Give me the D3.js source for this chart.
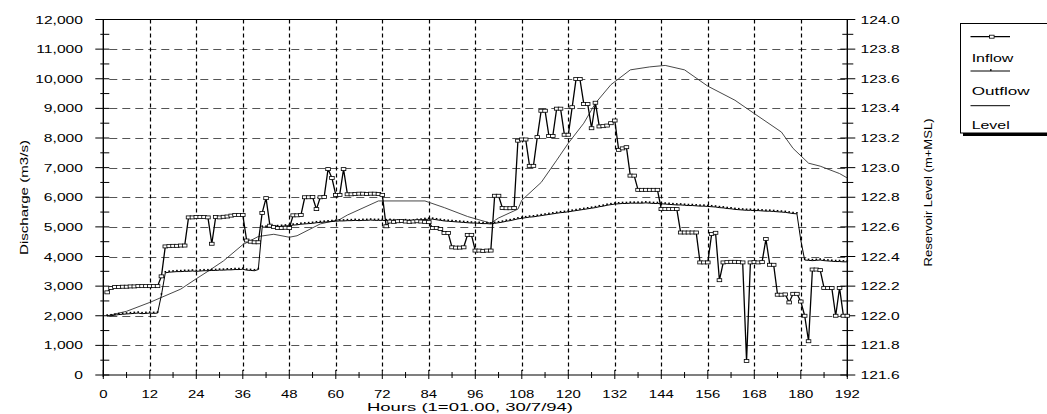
<!DOCTYPE html>
<html>
<head>
<meta charset="utf-8">
<script src="https://cdn.jsdelivr.net/npm/d3@7"></script>
<style>
  html, body { margin: 0; padding: 0; background: #fff; }
  svg { display: block; }
  text { font-family: "Liberation Sans", Arial, sans-serif; fill: #000; }
</style>
</head>
<body>
<svg id="chart" width="1047" height="414"></svg>
<script>
// Hourly discharge (m3/s), hour 1 .. 192
const inflow = [
  2790, 2940, 2970, 2970, 2980, 2980, 2990, 2990, 3000, 3000, 3000, 3000,
  3000, 3000, 3330, 4340, 4350, 4360, 4360, 4370, 4370, 5320, 5320, 5330,
  5330, 5330, 5320, 4430, 5330, 5320, 5340, 5350, 5380, 5400, 5400, 5400,
  4540, 4500, 4480, 4480, 5470, 5970, 5040, 5000, 4960, 4960, 4970, 4960,
  5390, 5390, 5400, 6000, 6000, 6010, 5600, 6000, 6010, 6950, 6650, 6080,
  6080, 6950, 6100, 6100, 6110, 6120, 6120, 6110, 6120, 6120, 6110, 6080,
  5020, 5180, 5170, 5190, 5200, 5180, 5170, 5180, 5190, 5180, 5170, 5160,
  4960, 4960, 4930, 4790, 4790, 4310, 4300, 4300, 4310, 4730, 4730, 4200,
  4200, 4190, 4200, 4200, 6050, 6050, 5640, 5630, 5630, 5640, 7910, 7950,
  7950, 7060, 7060, 8030, 8920, 8920, 8070, 8070, 8990, 8990, 8110, 8110,
  9040, 9990, 9990, 9150, 9150, 8330, 9190, 8390, 8400, 8420, 8500, 8590,
  7600, 7650, 7690, 6730, 6730, 6250, 6250, 6250, 6250, 6250, 6250, 5600,
  5600, 5600, 5600, 5600, 4810, 4810, 4810, 4810, 4810, 3800, 3800, 3800,
  4760, 4800, 3200, 3800, 3810, 3820, 3820, 3810, 3800, 470, 3800, 3810,
  3800, 3810, 4590, 3720, 3720, 2710, 2710, 2720, 2450, 2740, 2740, 2480,
  2000, 1140, 3560, 3560, 3540, 2940, 2940, 2940, 2000, 2940, 2000, 2000
];

const outflow = [
  1990, 2000, 2020, 2040, 2050, 2060, 2070, 2080, 2090, 2070, 2080, 2090,
  2080, 2090, 2700, 3450, 3470, 3480, 3490, 3490, 3500, 3500, 3510, 3500,
  3510, 3520, 3520, 3530, 3530, 3540, 3540, 3550, 3550, 3560, 3560, 3570,
  3540, 3530, 3520, 3560, 4990, 4990, 5000, 5000, 5010, 5020, 5030, 5040,
  5060, 5070, 5090, 5100, 5110, 5120, 5140, 5150, 5160, 5170, 5180, 5190,
  5200, 5200, 5210, 5210, 5220, 5210, 5220, 5220, 5230, 5220, 5220, 5220,
  5210, 5220, 5210, 5200, 5200, 5210, 5200, 5200, 5220, 5230, 5250, 5260,
  5260, 5240, 5220, 5200, 5190, 5180, 5170, 5160, 5150, 5140, 5130, 5130,
  5120, 5110, 5110, 5100, 5120, 5140, 5160, 5190, 5210, 5240, 5270, 5290,
  5310, 5330, 5340, 5360, 5380, 5400, 5420, 5440, 5460, 5480, 5490, 5510,
  5530, 5550, 5570, 5590, 5610, 5630, 5650, 5680, 5700, 5730, 5750, 5770,
  5780, 5790, 5790, 5800, 5800, 5800, 5800, 5810, 5800, 5790, 5790, 5780,
  5770, 5760, 5750, 5740, 5740, 5730, 5720, 5720, 5710, 5700, 5700, 5690,
  5680, 5670, 5650, 5640, 5620, 5610, 5590, 5580, 5570, 5560, 5560, 5550,
  5550, 5540, 5530, 5530, 5520, 5510, 5500, 5490, 5470, 5450, 5440, 4550,
  3880, 3870, 3860, 3870, 3880, 3860, 3850, 3840, 3830, 3830, 3820, 3820
];

// Reservoir level (m+MSL)
const levelHours  = [1, 6, 12, 20, 24, 27, 31, 36, 40, 44, 48, 50, 56, 61, 63, 71, 83, 88, 94, 100,
                     102, 107, 108, 113, 117, 120, 124, 127, 131, 133, 136, 141, 145, 150, 156, 163,
                     168, 175, 178, 182, 185, 190, 192];
const levelValues = [122.00, 122.03, 122.09, 122.18, 122.25, 122.30, 122.37, 122.48, 122.535, 122.55,
                     122.53, 122.54, 122.62, 122.65, 122.68, 122.775, 122.775, 122.73, 122.67, 122.625,
                     122.66, 122.72, 122.78, 122.90, 123.05, 123.165, 123.30, 123.435, 123.56, 123.60,
                     123.66, 123.68, 123.69, 123.66, 123.55, 123.455, 123.365, 123.24, 123.13, 123.03,
                     123.01, 122.96, 122.93];

const hourTicks      = [0, 12, 24, 36, 48, 60, 72, 84, 96, 108, 120, 132, 144, 156, 168, 180, 192];
const dischargeTicks = [0, 1000, 2000, 3000, 4000, 5000, 6000, 7000, 8000, 9000, 10000, 11000, 12000];
const levelTicks     = [121.6, 121.8, 122.0, 122.2, 122.4, 122.6, 122.8, 123.0, 123.2, 123.4, 123.6, 123.8, 124.0];

const seriesNames = ["Inflow", "Outflow", "Level"];

const svg = d3.select("#chart");
svg.append("rect").attr("width", 1047).attr("height", 414).attr("fill", "#fff");

const x  = d3.scaleLinear().domain([0, 192]).range([103.3, 847.3]);
const y  = d3.scaleLinear().domain([0, 12000]).range([375, 19.5]);
const yR = d3.scaleLinear().domain([121.6, 124.0]).range([375, 19.5]);

const X0 = x(0), X1 = x(192), Y0 = y(0), Y1 = y(12000);
const STRETCH = 1.36;   // wide lettering used throughout the chart

// --- grid ---
const grid = svg.append("g");
grid.selectAll("line.h")
  .data(dischargeTicks.filter(v => v > 0 && v < 12000))
  .join("line")
  .attr("x1", X0 + 6).attr("x2", X1)
  .attr("y1", d => Math.round(y(d)) + 0.5).attr("y2", d => Math.round(y(d)) + 0.5)
  .attr("stroke", "#555").attr("stroke-width", 1)
  .attr("stroke-dasharray", "8,5");
grid.selectAll("line.v")
  .data(hourTicks.filter(h => h > 0 && h < 192))
  .join("line")
  .attr("x1", d => Math.round(x(d)) + 0.5).attr("x2", d => Math.round(x(d)) + 0.5)
  .attr("y1", Y1).attr("y2", Y0 - 4)
  .attr("stroke", "#000").attr("stroke-width", 1.2)
  .attr("stroke-dasharray", "4,3");

// --- frame & axes ---
const ax = svg.append("g").attr("stroke", "#000").attr("fill", "none");
ax.append("line").attr("x1", X0).attr("x2", X1).attr("y1", Y1).attr("y2", Y1).attr("stroke-width", 1);
ax.append("line").attr("x1", X0).attr("x2", X0).attr("y1", Y1).attr("y2", Y0 + 2).attr("stroke-width", 1.4);
ax.append("line").attr("x1", X1).attr("x2", X1).attr("y1", Y1).attr("y2", Y0 + 2).attr("stroke-width", 1.4);
ax.append("line").attr("x1", X0).attr("x2", X1).attr("y1", Y0).attr("y2", Y0).attr("stroke-width", 1.2);

// left ticks: major every 1000, minor every 500
const leftMinor = d3.range(500, 12000, 1000);
ax.selectAll("line.lmaj").data(dischargeTicks).join("line")
  .attr("x1", X0 - 8).attr("x2", X0 + 6)
  .attr("y1", d => y(d)).attr("y2", d => y(d));
ax.selectAll("line.lmin").data(leftMinor).join("line")
  .attr("x1", X0 - 3).attr("x2", X0 + 6)
  .attr("y1", d => y(d)).attr("y2", d => y(d));

// right ticks: major every 0.2, minor every 0.1
const rightMinor = levelTicks.slice(0, -1).map(v => v + 0.1);
ax.selectAll("line.rmaj").data(levelTicks).join("line")
  .attr("x1", X1 - 7).attr("x2", X1 + 8)
  .attr("y1", d => yR(d)).attr("y2", d => yR(d));
ax.selectAll("line.rmin").data(rightMinor).join("line")
  .attr("x1", X1 - 5).attr("x2", X1 + 6)
  .attr("y1", d => yR(d)).attr("y2", d => yR(d));

// bottom ticks: major every 12 h, minor every 6 h
const hourMinor = hourTicks.slice(0, -1).map(h => h + 6);
ax.selectAll("line.bmaj").data(hourTicks).join("line")
  .attr("x1", d => x(d)).attr("x2", d => x(d))
  .attr("y1", Y0 - 5).attr("y2", Y0 + 4);
ax.selectAll("line.bmin").data(hourMinor).join("line")
  .attr("x1", d => x(d)).attr("x2", d => x(d))
  .attr("y1", Y0 - 3).attr("y2", Y0 + 3);

// --- tick labels ---
const fmt = d3.format(",");
const labels = svg.append("g").style("font-size", "11.5px");
labels.selectAll("text.l").data(dischargeTicks).join("text")
  .attr("text-anchor", "end")
  .attr("transform", d => `translate(83,${y(d) + 4}) scale(${STRETCH},1)`)
  .text(d => fmt(d));
labels.selectAll("text.r").data(levelTicks).join("text")
  .attr("text-anchor", "start")
  .attr("transform", d => `translate(860.5,${yR(d) + 4}) scale(${STRETCH},1)`)
  .text(d => d.toFixed(1));
labels.selectAll("text.b").data(hourTicks).join("text")
  .attr("text-anchor", "middle")
  .attr("transform", d => `translate(${x(d)},397.5) scale(1.3,1)`)
  .text(d => d);

// axis titles
const titles = svg.append("g").style("font-size", "11.5px");
titles.append("text")
  .attr("x", 367).attr("y", 411)
  .attr("textLength", 206).attr("lengthAdjust", "spacingAndGlyphs")
  .text("Hours (1=01.00, 30/7/94)");
titles.append("text")
  .attr("transform", "translate(28,197.5) rotate(-90)")
  .attr("text-anchor", "middle")
  .attr("textLength", 115).attr("lengthAdjust", "spacingAndGlyphs")
  .text("Discharge (m3/s)");
titles.append("text")
  .attr("transform", "translate(932,192.5) rotate(-90)")
  .attr("text-anchor", "middle")
  .attr("textLength", 148).attr("lengthAdjust", "spacingAndGlyphs")
  .text("Reservoir Level (m+MSL)");

// --- series ---
const plot = svg.append("g");

const levelLine = d3.line()
  .x((d, i) => x(levelHours[i]))
  .y(d => yR(d));
plot.append("path")
  .datum(levelValues)
  .attr("d", levelLine)
  .attr("fill", "none").attr("stroke", "#333").attr("stroke-width", 0.9);

const hourLine = d3.line()
  .x((d, i) => x(i + 1))
  .y(d => y(d));

plot.append("path")
  .datum(outflow)
  .attr("d", hourLine)
  .attr("fill", "none").attr("stroke", "#000").attr("stroke-width", 1);
plot.selectAll("rect.out").data(outflow).join("rect")
  .attr("x", (d, i) => x(i + 1) - 0.8).attr("y", d => y(d) - 1.8)
  .attr("width", 1.6).attr("height", 1.6)
  .attr("fill", "#000");

plot.append("path")
  .datum(inflow)
  .attr("d", hourLine)
  .attr("fill", "none").attr("stroke", "#000").attr("stroke-width", 1.3);
plot.selectAll("rect.in").data(inflow).join("rect")
  .attr("x", (d, i) => x(i + 1) - 2.3).attr("y", d => y(d) - 1.5)
  .attr("width", 4.6).attr("height", 3)
  .attr("fill", "#fff").attr("stroke", "#000").attr("stroke-width", 0.8);

// --- legend ---
const lg = svg.append("g");
lg.append("rect").attr("x", 963).attr("y", 133).attr("width", 84).attr("height", 3).attr("fill", "#000");
lg.append("rect").attr("x", 960.5).attr("y", 23.5).attr("width", 100).attr("height", 109.5)
  .attr("fill", "#fff").attr("stroke", "#000").attr("stroke-width", 1);

const legendRows = [
  { name: seriesNames[0], lineY: 36.7, textY: 61.5, width: 41.7, mark: "box" },
  { name: seriesNames[1], lineY: 71,   textY: 95,   width: 58,   mark: "dot" },
  { name: seriesNames[2], lineY: 105.7, textY: 128.5, width: 38, mark: "none" }
];
legendRows.forEach(r => {
  lg.append("line").attr("x1", 970.5).attr("x2", 1010).attr("y1", r.lineY).attr("y2", r.lineY)
    .attr("stroke", "#000").attr("stroke-width", r.mark === "box" ? 1.3 : 1);
  if (r.mark === "box") {
    lg.append("rect").attr("x", 989.5).attr("y", r.lineY - 1.5).attr("width", 4.6).attr("height", 3)
      .attr("fill", "#fff").attr("stroke", "#000").attr("stroke-width", 0.8);
  } else if (r.mark === "dot") {
    lg.append("rect").attr("x", 990).attr("y", r.lineY - 1.8).attr("width", 1.6).attr("height", 1.6).attr("fill", "#000");
  }
  lg.append("text").attr("x", 971.7).attr("y", r.textY)
    .style("font-size", "11.5px")
    .attr("textLength", r.width).attr("lengthAdjust", "spacingAndGlyphs")
    .text(r.name);
});
</script>
</body>
</html>
